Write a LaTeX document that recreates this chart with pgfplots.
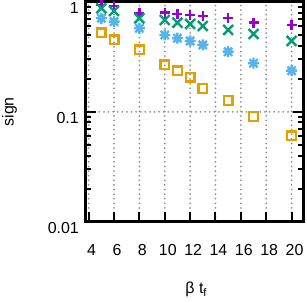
\documentclass[border=0pt]{standalone}
\usepackage{pgfplots}
\pgfplotsset{compat=1.18}
\usepackage{fontspec}
\setmainfont{Liberation Sans}
\definecolor{gpurple}{HTML}{9400D3}
\definecolor{ggreen}{HTML}{009E73}
\definecolor{gblue}{HTML}{56B4E9}
\definecolor{gorange}{HTML}{E69F00}
\pgfdeclareplotmark{plusx}{%
  \pgfpathmoveto{\pgfqpoint{-\pgfplotmarksize}{0pt}}\pgfpathlineto{\pgfqpoint{\pgfplotmarksize}{0pt}}%
  \pgfpathmoveto{\pgfqpoint{0pt}{-\pgfplotmarksize}}\pgfpathlineto{\pgfqpoint{0pt}{\pgfplotmarksize}}%
  \pgfpathmoveto{\pgfqpoint{-0.75\pgfplotmarksize}{-0.75\pgfplotmarksize}}\pgfpathlineto{\pgfqpoint{0.75\pgfplotmarksize}{0.75\pgfplotmarksize}}%
  \pgfpathmoveto{\pgfqpoint{-0.75\pgfplotmarksize}{0.75\pgfplotmarksize}}\pgfpathlineto{\pgfqpoint{0.75\pgfplotmarksize}{-0.75\pgfplotmarksize}}%
  \pgfusepathqstroke}
\begin{document}
\begin{tikzpicture}
\useasboundingbox (0,0) rectangle (307bp,303bp);
\begin{axis}[
  at={(85.5bp,81.3bp)}, anchor=south west,
  scale only axis, width=217.5bp, height=219.7bp,
  ymode=log, xmin=3.75, xmax=20.9, ymin=0.01, ymax=1,
  xtick={4,6,...,20},
  ytick={0.01,0.1,1},
  yticklabels={0.01,0.1,1},
  /pgf/number format/assume math mode=true,
  xtick pos=bottom, ytick pos=both,
  tick align=inside,
  major tick length=10bp, minor tick length=5bp,
  every tick/.style={black, line width=2bp},
  axis line style={line width=3bp},
  xmajorgrids, ymajorgrids,
  major grid style={gray!85, line width=2bp, line cap=round, dash pattern=on 0bp off 4.6bp},
  tick label style={font=\fontsize{16}{18}\selectfont},
  xticklabel style={anchor=center, yshift=-28bp, xshift=3bp},
  yticklabel style={anchor=east, xshift=-3.2bp, yshift=-6.5bp},
  label style={font=\fontsize{16}{18}\selectfont},
  xlabel={β t\textsubscript{f}},
  ylabel={sign},
  xlabel style={at={(axis description cs:0.5,0)}, anchor=center, yshift=-68bp, xshift=2bp},
  ylabel style={at={(axis description cs:0,0.5)}, anchor=center, yshift=76bp},
  clip=true,
]
\addplot[only marks, color=gpurple, mark=+, mark size=5bp, line width=2.4bp] coordinates {
(5,0.939) (6,0.92) (8,0.789) (10,0.80) (11,0.778) (12,0.762) (13,0.746) (15,0.711) (17,0.648) (20,0.618)};
\addplot[only marks, color=ggreen, mark=x, mark size=7bp, line width=2.4bp] coordinates {
(5,0.877) (6,0.828) (8,0.711) (10,0.686) (11,0.648) (12,0.631) (13,0.605) (15,0.557) (17,0.512) (20,0.442)};
\addplot[only marks, color=gblue, mark=plusx, mark size=5.5bp, line width=2.4bp] coordinates {
(5,0.711) (6,0.662) (8,0.577) (10,0.501) (11,0.468) (12,0.442) (13,0.407) (15,0.353) (17,0.277) (20,0.237)};
\addplot[only marks, color=gorange, mark=square, mark size=4.3bp, line width=2.4bp] coordinates {
(5,0.526) (6,0.452) (8,0.366) (10,0.267) (11,0.236) (12,0.207) (13,0.163) (15,0.127) (17,0.0906) (20,0.0605)};
\end{axis}
\end{tikzpicture}
\end{document}
